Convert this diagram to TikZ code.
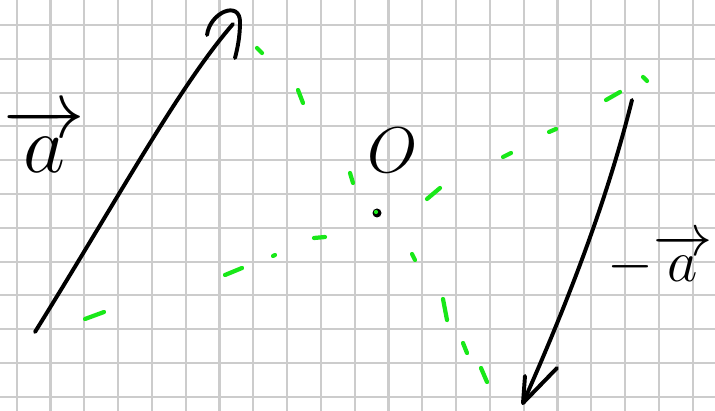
\documentclass[tikz,border=0pt]{standalone}
\usepackage{fix-cm}
\usepackage{amsmath}
\usepackage{tikz}
\usetikzlibrary{calc}

\definecolor{gridgray}{RGB}{204,204,204}
\definecolor{pengreen}{RGB}{25,232,25}

\tikzset{
    gridline/.style={draw=gridgray, line width=1.5pt},
    vecline/.style={draw=black, line width=2.8pt, line cap=round, line join=round},
    guide/.style={draw=pengreen, line width=3pt, line cap=round},
    lbl/.style={inner sep=0pt, font=\fontsize{58}{58}\selectfont}
}

\begin{document}
\begin{tikzpicture}[x=0.025cm, y=-0.025cm]
    \fill[white] (0, 0) rectangle (715, 411);
    \useasboundingbox (0, 0) rectangle (715, 411);
    \foreach \i in {0,...,20}
        \draw[gridline] ({16.7+33.8*\i}, 0) -- ({16.7+33.8*\i}, 411);
    \foreach \j in {0,...,11}
        \draw[gridline] (0, {25+33.8*\j}) -- (715, {25+33.8*\j});
    \coordinate (aTail) at (35, 332);
    \coordinate (aTip) at (233, 24);
    \coordinate (naTail) at (632, 100);
    \coordinate (naTip) at (523, 403);
    \node[lbl] (avec) at (44, 140) {$\overrightarrow{a}$};
    \node[lbl, font=\fontsize{46}{46}\selectfont] (o) at (393, 150) {$O$};
    \node[lbl, font=\fontsize{42}{42}\selectfont] (navec) at (660, 260) {$-\overrightarrow{a}$};
    \draw[guide]
        (257, 48) -- (262, 53)
        (298, 90) -- (303, 103)
        (350, 173) -- (353, 183)
        (412, 254) -- (415, 260)
        (443, 299) -- (447, 320)
        (463, 343) -- (467, 353)
        (481, 368) -- (487, 382);
    \draw[guide]
        (85, 319) -- (104, 312)
        (225, 275) -- (242, 268)
        (273, 256) -- (275, 255)
        (314, 238) -- (325, 237)
        (427, 199) -- (440, 188)
        (503, 157) -- (511, 153)
        (549, 132) -- (556, 129)
        (606, 100) -- (620, 92)
        (643, 77) -- (647, 81);
    \fill[black] (377, 213) circle (4.5);
    \node[circle, fill=pengreen, inner sep=0pt, minimum size=3pt] (odot) at (376, 212) {};
    \draw[vecline] (aTail) .. controls (120, 195) and (180, 85) .. (aTip);
    \draw[vecline] (207, 35) .. controls (210, 12) and (240, 0) .. (240, 22)
        .. controls (240, 38) and (237, 50) .. (235, 58);
    \draw[vecline] (naTail) .. controls (612, 180) and (580, 275) .. (naTip);
    \draw[vecline] (557, 368) -- (naTip) -- (525, 376);
\end{tikzpicture}
\end{document}
